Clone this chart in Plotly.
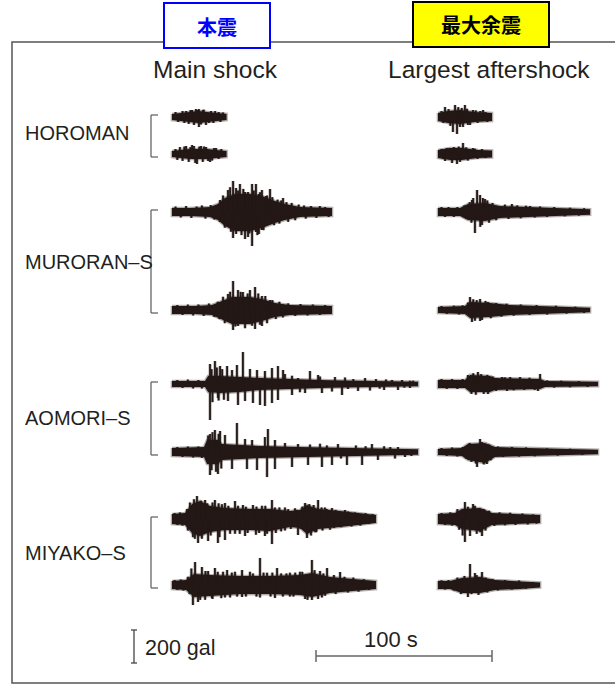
import plotly.graph_objects as go

# ---------------- chart data (time in s, acceleration in gal) ----------------
stations = ["HOROMAN", "MURORAN–S", "AOMORI–S", "MIYAKO–S"]
column_titles = ["Main shock", "Largest aftershock"]
column_tags = ["本震", "最大余震"]
scale_gal = 200
scale_sec = 100

# envelope knots: time (s), upper / lower envelope (gal)
# peaks: (time s, peak acceleration gal; negative = downward)

# HOROMAN, main shock
hor_m1_t = [0, 5, 10, 15, 20, 25, 31]
hor_m1_up = [18, 24, 30, 36, 30, 24, 18]
hor_m1_dn = [18, 24, 30, 36, 30, 24, 18]
hor_m1_pk = [(8.0, 36), (11.4, 42), (13.6, 48), (15.3, 48), (15.3, -60), (17.6, 42), (19.3, -48),
             (22.2, 36), (2, 30), (3.5, -30), (6, 36), (7, -36), (9.5, -42), (10.5, 42),
             (12.5, -48), (14.5, 42), (16.5, -45), (18, 45), (21, -36), (23.5, -36), (24.5, 36),
             (26.5, 30), (27.5, -30), (29, 28)]
hor_m2_t = [0, 5, 10, 15, 20, 25, 31]
hor_m2_up = [18, 24, 30, 30, 30, 24, 18]
hor_m2_dn = [18, 24, 30, 30, 30, 24, 18]
hor_m2_pk = [(4.5, 42), (8.0, 48), (11.4, 54), (14.2, -60), (16.5, 48), (19.3, 42), (21.6, -48),
             (23.9, 36), (2, 30), (3, -36), (6, -42), (7, 45), (9.5, -48), (10.5, 42), (12.5, 48),
             (13.2, -54), (15.5, 45), (17.5, -48), (18.2, 45), (20.5, -42), (22.8, -40), (25, 36),
             (26.5, -30), (28, 30)]

# HOROMAN, largest aftershock
hor_a1_t = [0, 5.7, 12.5, 21.0, 30.7]
hor_a1_up = [24, 36, 42, 30, 24]
hor_a1_dn = [24, 36, 42, 30, 24]
hor_a1_pk = [(4.0, 61), (9.7, 73), (15.3, 73), (19.9, 42), (25.6, 42), (8.5, -91), (10.8, -103),
             (14.2, -61), (18.2, -48), (2, 36), (3, -36), (6, 48), (7, -54), (11.5, 60),
             (12.5, -60), (13.5, 55), (16.5, 50), (17, -48), (21.5, 40), (22.5, -36), (24, 36),
             (27, 30), (28, -30)]
hor_a2_t = [0, 6.8, 13.6, 22.7, 30.7]
hor_a2_up = [24, 36, 36, 24, 21]
hor_a2_dn = [24, 36, 36, 24, 21]
hor_a2_pk = [(6.8, 36), (14.2, 67), (19.9, 36), (4.0, -42), (8.0, -55), (10.8, -61), (2, 30),
             (3, -30), (5, 36), (9, 42), (11.8, 45), (12.5, -48), (16, 40), (17, -40), (21, 32),
             (22.5, -30), (25, 30), (27, -24)]

# MURORAN-S, main shock
mur_m1_t = [0, 10.2, 21.6, 26.1, 30.1, 35.8, 44.3, 51.1, 58.5, 64.2, 72.7, 90.9]
mur_m1_up = [24, 24, 30, 48, 85, 109, 109, 97, 67, 48, 30, 24]
mur_m1_dn = [24, 24, 30, 48, 85, 115, 115, 97, 67, 48, 30, 24]
mur_m1_pk = [(27.3, 73), (31.8, 133), (34.7, 188), (36.4, 145), (38.6, 170), (41.5, 121),
             (43.2, 121), (45.5, 170), (47.7, 170), (49.4, 109), (51.1, 133), (53.4, 97),
             (55.7, 139), (63.1, 85), (27.3, -61), (34.7, -158), (36.4, -133), (38.6, -109),
             (41.5, -164), (43.2, -152), (45.5, -206), (47.7, -121), (49.4, -133), (51.1, -109),
             (53.4, -85), (55.7, -73), (63.1, -48), (2, 33), (5, -33), (8, 36), (11, -36),
             (14, 33), (17, 40), (19, -40), (22, 42), (24, -45), (29, 100), (30, -95), (33, 150),
             (33.5, -120), (37.5, 130), (39.5, -140), (40.5, 140), (42.5, 110), (44, -130),
             (46.5, 130), (48.5, -140), (50, 120), (52, -110), (54, 100), (57, 90), (58, -80),
             (60, 75), (61, -70), (62, 70), (65, 60), (66, -60), (68, 55), (70, -50), (72, 45),
             (75, 40), (76, -40), (79, 36), (82, -36), (84, 36), (87, 30), (89, -30)]
mur_m2_t = [0, 13.1, 22.7, 28.4, 34.1, 44.3, 51.1, 58.5, 67.0, 90.9]
mur_m2_up = [24, 24, 30, 55, 79, 79, 67, 42, 30, 24]
mur_m2_dn = [24, 24, 30, 55, 85, 85, 67, 42, 30, 24]
mur_m2_pk = [(31.8, 97), (34.7, 176), (37.5, 121), (40.3, 109), (44.3, 121), (47.2, 139),
             (51.1, 85), (55.7, 61), (31.8, -73), (34.7, -121), (37.5, -97), (40.3, -85),
             (44.3, -73), (47.2, -115), (51.1, -97), (55.7, -48), (3, 30), (6, -30), (9, 33),
             (12, -33), (15, 33), (18, -36), (21, 40), (24, -42), (26, 50), (27, -55), (29, 80),
             (30, -80), (33, 110), (36, -100), (39, 110), (41.5, -110), (43, 100), (45.5, -95),
             (49, 100), (50, -90), (53, 85), (54, -80), (57, 60), (59, -55), (61, 50), (63, -45),
             (66, 40), (70, -36), (73, 36), (77, -33), (80, 33), (84, -30), (87, 30)]

# MURORAN-S, largest aftershock
mur_a1_t = [0, 12.5, 17.0, 26.7, 35.2, 52.3, 69.3, 86.4]
mur_a1_up = [24, 24, 48, 55, 36, 30, 22, 16]
mur_a1_dn = [24, 24, 48, 55, 36, 30, 22, 16]
mur_a1_pk = [(19.3, 73), (22.2, 133), (23.9, 103), (26.7, 79), (42.0, 48), (52.3, 36),
             (21.0, -127), (25.0, -79), (2, 30), (4, -30), (6, 30), (9, -30), (11, 30), (15, 40),
             (16, -40), (18, 60), (19, -65), (20, 85), (24, -90), (25.5, 85), (28, 70), (29, -65),
             (31, 55), (33, -50), (38, 45), (40, -42), (45, 40), (47, -38), (50, 38), (55, -33),
             (58, 33), (62, -30), (66, 30), (72, -26), (75, 26), (80, -22), (83, 22)]
mur_a2_t = [0, 15.3, 18.2, 29.5, 40.9, 63.6, 86.4]
mur_a2_up = [18, 24, 48, 42, 30, 22, 14]
mur_a2_dn = [18, 24, 48, 42, 30, 22, 14]
mur_a2_pk = [(18.2, 79), (23.9, 67), (28.4, 48), (19.3, -73), (23.9, -67), (2, 24), (5, -24),
             (9, 26), (12, -27), (14, 28), (17, 45), (20, 65), (21, -65), (22, 60), (25, -60),
             (27, 55), (30, -50), (33, 42), (36, -40), (39, 38), (43, -34), (47, 33), (52, -30),
             (56, 30), (62, -27), (67, 26), (73, -22), (78, 20), (83, -18)]

# AOMORI-S, main shock
aom_m1_t = [0, 18.8, 20.5, 27.3, 38.6, 50.0, 67.0, 89.8, 112.5, 139.8]
aom_m1_up = [18, 18, 48, 48, 42, 36, 30, 22, 16, 13]
aom_m1_dn = [18, 18, 48, 55, 48, 36, 30, 22, 16, 13]
aom_m1_pk = [(21.6, 121), (24.4, 139), (27.3, 109), (31.3, 109), (34.1, 85), (36.9, 115),
             (40.3, 194), (44.3, 91), (48.3, 85), (52.8, 79), (56.8, 97), (60.2, 109), (63.1, 85),
             (64.2, 60), (68.2, 50), (71.6, 36), (78.4, 79), (83.0, 55), (84.1, 45), (92.6, 42),
             (98.3, 40), (109.7, 36), (115.9, 30), (121.6, 28), (130.7, 24), (135.2, 20),
             (21.6, -218), (26.1, -85), (31.8, -103), (37.5, -127), (41.5, -103), (46.0, -115),
             (50.0, -127), (52.8, -133), (56.8, -115), (60.2, -97), (68.2, -67), (72.7, -50),
             (75.6, -55), (85.2, -55), (90.9, -45), (96.6, -67), (105.7, -42), (112.5, -40),
             (120.5, -36), (128.4, -36), (135.2, -24), (3, 24), (6, -24), (9, 27), (12, -27),
             (15, 24), (17, -27), (22.5, 90), (23, -110), (25.5, 100), (26.5, -100), (28.5, 90),
             (29.5, -95), (100, -30), (103, 30), (118, -28), (125, 25), (132, -22), (137, 20)]
aom_m2_t = [0, 18.2, 19.9, 26.1, 28.4, 50.0, 72.7, 101.1, 139.8]
aom_m2_up = [24, 30, 73, 73, 48, 36, 30, 24, 16]
aom_m2_dn = [24, 30, 73, 73, 48, 36, 30, 24, 16]
aom_m2_pk = [(21.6, 109), (24.4, 133), (27.3, 127), (30.1, 103), (36.9, 176), (41.5, 79),
             (45.5, 73), (52.8, 91), (54.5, 139), (58.5, 73), (64.2, 55), (71.6, 48), (78.4, 45),
             (84.1, 50), (94.3, 48), (104.5, 40), (113.6, 48), (120.5, 35), (128.4, 30),
             (21.6, -139), (26.1, -133), (34.1, -103), (42.6, -103), (48.3, -109), (54.0, -152),
             (58.5, -103), (68.2, -91), (77.3, -79), (85.2, -91), (90.9, -79), (99.4, -79),
             (108.0, -79), (117.0, -48), (126.7, -40), (132.4, -30), (3, 30), (6, -30), (9, 33),
             (12, -33), (15, 33), (17, -36), (20.5, 100), (22.5, -110), (23, 120), (25, -120),
             (26.5, 110), (28, -100), (88, 40), (96, -40), (110, 35), (124, 30), (136, -24)]

# AOMORI-S, largest aftershock
aom_a1_t = [0, 15.3, 18.2, 29.5, 32.4, 58.0, 60.8, 90.9]
aom_a1_up = [24, 24, 55, 48, 36, 30, 18, 14]
aom_a1_dn = [24, 24, 48, 48, 36, 30, 18, 14]
aom_a1_pk = [(22.7, 73), (36.4, 42), (46.6, 42), (58.0, 61), (28.4, -61), (39.2, -42),
             (56.8, -42), (2, 30), (5, -30), (8, 30), (11, -30), (14, 30), (17, 55), (19, -60),
             (20, 65), (21.5, -65), (24.5, 60), (26, -60), (28, 55), (31, 45), (33, -42), (38, 40),
             (41, 42), (43, -38), (49, -36), (52, 38), (55, -36), (62, 22), (66, -22), (70, 20),
             (75, -20), (80, 18), (85, -18)]
aom_a2_t = [0, 13.6, 17.0, 26.7, 32.4, 58.0, 90.9]
aom_a2_up = [18, 24, 48, 55, 30, 24, 14]
aom_a2_dn = [18, 24, 48, 67, 30, 24, 14]
aom_a2_pk = [(21.0, 48), (23.9, 79), (22.2, -91), (27.8, -73), (2, 24), (5, -24), (8, 27),
             (11, -27), (14, 30), (16, -40), (18, 55), (19, -60), (21.5, -70), (25, 60),
             (26, -75), (29, 45), (30, -50), (34, 33), (37, -30), (42, 30), (46, -28), (50, 28),
             (55, -26), (62, 22), (68, -22), (75, 20), (82, -18)]

# MIYAKO-S, main shock
miy_m1_t = [0, 7.4, 11.4, 15.9, 21.6, 30.1, 44.3, 55.7, 67.0, 72.7, 76.7, 83.0, 95.5, 106.8, 115.9]
miy_m1_up = [30, 36, 91, 109, 79, 67, 61, 61, 48, 55, 85, 61, 48, 36, 24]
miy_m1_dn = [30, 36, 85, 103, 79, 67, 67, 73, 48, 55, 91, 61, 48, 36, 24]
miy_m1_pk = [(10.2, 100), (14.2, 139), (18.8, 115), (24.4, 115), (28.4, 90), (30.1, 97),
             (35.8, 109), (40.3, 85), (46.0, 85), (51.1, 80), (56.8, 115), (64.2, 70), (69.9, 65),
             (75.6, 97), (83.0, 115), (86.9, 70), (90.9, 67), (98.3, 55), (11.9, -110),
             (14.8, -145), (20.5, -133), (26.1, -145), (30.1, -127), (35.8, -90), (41.5, -103),
             (47.7, -95), (52.8, -103), (56.8, -152), (64.2, -70), (71.6, -97), (76.7, -115),
             (81.3, -80), (89.8, -65), (1.5, 36), (3, -36), (4.5, 40), (6, -40), (8.5, 60),
             (9, -70), (12.5, 120), (13, -120), (16.5, 110), (17, -120), (20, 95), (22, -100),
             (23, 100), (26.5, 95), (27, -110), (32, 80), (33, -90), (37.5, 80), (38.5, -90),
             (42, 75), (43, -85), (48, 75), (49.5, -85), (53, 80), (54, -90), (58.5, 70),
             (59, -85), (61, 70), (62, -75), (66, 60), (67.5, -60), (71, 55), (73, -60), (74, 75),
             (78, 90), (79, -100), (80.5, 85), (82, -80), (85, 70), (85.5, -70), (88, 60),
             (92, -55), (93, 55), (96, -50), (100, 45), (102, -45), (104, 40), (107, -40),
             (110, 35), (112, -30), (114, 30)]
miy_m2_t = [0, 8.0, 12.5, 21.6, 38.6, 55.7, 72.7, 79.5, 89.8, 104.0, 115.9]
miy_m2_up = [24, 30, 67, 61, 55, 55, 61, 73, 48, 36, 24]
miy_m2_dn = [24, 30, 73, 67, 55, 55, 61, 73, 48, 36, 24]
miy_m2_pk = [(13.1, 139), (17.0, 109), (20.5, 85), (24.4, 103), (31.3, 91), (35.8, 80),
             (39.8, 91), (44.3, 80), (50.0, 164), (54.0, 75), (59.7, 103), (67.0, 75), (72.7, 80),
             (79.5, 152), (84.1, 85), (88.1, 103), (95.5, 79), (11.9, -121), (14.8, -103),
             (18.8, -90), (22.7, -79), (30.1, -75), (39.8, -73), (50.0, -75), (58.5, -79),
             (67.0, -70), (75.6, -85), (79.5, -91), (85.2, -75), (1.5, 30), (3, -30), (5, 33),
             (6.5, -33), (9, 50), (10, -55), (11, 100), (16, -90), (19, 85), (23, -85), (26, 80),
             (28, -80), (29, 80), (33, -75), (34, 75), (37, -70), (42, -70), (46, 70), (48, -70),
             (52, 75), (56, -70), (57, 75), (62, 70), (63, -70), (65, 70), (69, -70), (70, 75),
             (74, 80), (77, -90), (81, 90), (83, -85), (86, 70), (87, -65), (92, 60), (93, -55),
             (98, 50), (100, -45), (103, 45), (106, -40), (109, 35), (112, -30)]

# MIYAKO-S, largest aftershock
miy_a1_t = [0, 9.7, 13.6, 23.9, 30.7, 46.6, 58.0]
miy_a1_up = [30, 36, 61, 67, 36, 30, 24]
miy_a1_dn = [30, 36, 61, 73, 36, 30, 24]
miy_a1_pk = [(15.3, 103), (19.9, 91), (23.9, 61), (15.3, -139), (18.2, -103), (25.0, -103),
             (2, 36), (4, -36), (7, 40), (8, -40), (11, 60), (12, -65), (14, -100), (17, 75),
             (21, 80), (22, -90), (24, -80), (26, 60), (27, -70), (29, 50), (32, -42), (35, 40),
             (38, -38), (41, 38), (44, -36), (48, 33), (51, -33), (54, 28), (56, -28)]
miy_a2_t = [0, 6.8, 13.6, 23.9, 32.4, 46.6, 58.0]
miy_a2_up = [24, 24, 42, 48, 30, 24, 15]
miy_a2_dn = [24, 24, 48, 48, 30, 24, 15]
miy_a2_pk = [(18.2, 127), (21.0, 73), (25.0, 79), (17.0, -73), (2, 28), (4, -28), (6, 30),
             (9, -33), (11, 45), (13, -55), (15, 55), (19, -55), (22, 60), (23, -60), (27, 45),
             (28, -45), (31, 36), (34, -33), (38, 30), (42, -28), (46, 28), (50, -22), (54, 18)]

# ---------------- layout (pixel geometry of the page) ----------------
W, H = 615, 685
PX_PER_S = 1.76
PX_PER_GAL = 33 / 200
col_start_px = [172, 438]
baseline_px = [[117, 154], [212, 310], [384, 452], [519, 585]]
label_y_px = [133, 262, 418, 553]
INK = "#231815"
INK_SOFT = "rgba(35,24,21,0.35)"
TXT = "#231f20"
FONT = "Liberation Sans, Arial, sans-serif"

traces_by_station = [
    [[(hor_m1_t, hor_m1_up, hor_m1_dn, hor_m1_pk), (hor_m2_t, hor_m2_up, hor_m2_dn, hor_m2_pk)],
     [(hor_a1_t, hor_a1_up, hor_a1_dn, hor_a1_pk), (hor_a2_t, hor_a2_up, hor_a2_dn, hor_a2_pk)]],
    [[(mur_m1_t, mur_m1_up, mur_m1_dn, mur_m1_pk), (mur_m2_t, mur_m2_up, mur_m2_dn, mur_m2_pk)],
     [(mur_a1_t, mur_a1_up, mur_a1_dn, mur_a1_pk), (mur_a2_t, mur_a2_up, mur_a2_dn, mur_a2_pk)]],
    [[(aom_m1_t, aom_m1_up, aom_m1_dn, aom_m1_pk), (aom_m2_t, aom_m2_up, aom_m2_dn, aom_m2_pk)],
     [(aom_a1_t, aom_a1_up, aom_a1_dn, aom_a1_pk), (aom_a2_t, aom_a2_up, aom_a2_dn, aom_a2_pk)]],
    [[(miy_m1_t, miy_m1_up, miy_m1_dn, miy_m1_pk), (miy_m2_t, miy_m2_up, miy_m2_dn, miy_m2_pk)],
     [(miy_a1_t, miy_a1_up, miy_a1_dn, miy_a1_pk), (miy_a2_t, miy_a2_up, miy_a2_dn, miy_a2_pk)]],
]


def sx(px):  # pixel x -> time axis (s)
    return px / PX_PER_S


def sy(py):  # pixel y -> amplitude axis (gal)
    return -py / PX_PER_GAL


fig = go.Figure()

for si, cols in enumerate(traces_by_station):
    for ci, pair in enumerate(cols):
        x0 = sx(col_start_px[ci])
        for k, (t, up, dn, pk) in enumerate(pair):
            b = sy(baseline_px[si][k])
            xs = [x0 + v for v in t] + [x0 + v for v in reversed(t)]
            ys = [b + v for v in up] + [b - v for v in reversed(dn)]
            px_, py_ = [], []
            for tt, aa in pk:
                px_ += [x0 + tt, x0 + tt, None]
                py_ += [b, b + aa, None]
            # soft halo (blurred print look)
            fig.add_trace(go.Scatter(x=px_, y=py_, mode="lines",
                                     line=dict(color=INK_SOFT, width=3.2),
                                     hoverinfo="skip", showlegend=False))
            fig.add_trace(go.Scatter(x=xs + [xs[0]], y=ys + [ys[0]], mode="lines",
                                     fill="toself", fillcolor=INK,
                                     line=dict(color=INK_SOFT, width=2.6),
                                     hoverinfo="skip", showlegend=False))
            fig.add_trace(go.Scatter(x=px_, y=py_, mode="lines",
                                     line=dict(color=INK, width=1.8),
                                     hoverinfo="skip", showlegend=False))

# 200 gal scale bar
gx = sx(134)
gb = sy(663)
cap = 3 / PX_PER_S
fig.add_trace(go.Scatter(
    x=[gx, gx, None, gx - cap, gx + cap, None, gx - cap, gx + cap],
    y=[gb, gb + scale_gal, None, gb, gb, None, gb + scale_gal, gb + scale_gal],
    mode="lines", line=dict(color="#444", width=1.3), hoverinfo="skip", showlegend=False))

# 100 s scale bar
tx0 = sx(316)
ty = sy(656)
tick = 6 / PX_PER_GAL
fig.add_trace(go.Scatter(
    x=[tx0, tx0 + scale_sec, None, tx0, tx0, None, tx0 + scale_sec, tx0 + scale_sec],
    y=[ty, ty, None, ty - tick, ty + tick, None, ty - tick, ty + tick],
    mode="lines", line=dict(color="#666", width=1.5), hoverinfo="skip", showlegend=False))


def P(px, py):
    return px / W, 1 - py / H


shapes = []
fx0, fy0 = P(12, 683)
fx1, fy1 = P(640, 42)
shapes.append(dict(type="rect", xref="paper", yref="paper", x0=fx0, y0=fy0, x1=fx1, y1=fy1,
                   line=dict(color="#555", width=1.5), fillcolor="rgba(0,0,0,0)"))
bx0, by0 = P(164, 48)
bx1, by1 = P(270, 3)
shapes.append(dict(type="rect", xref="paper", yref="paper", x0=bx0, y0=by0, x1=bx1, y1=by1,
                   line=dict(color="#0000ff", width=2), fillcolor="white"))
bx0, by0 = P(413, 47)
bx1, by1 = P(549, 2)
shapes.append(dict(type="rect", xref="paper", yref="paper", x0=bx0, y0=by0, x1=bx1, y1=by1,
                   line=dict(color="#000000", width=2), fillcolor="#ffff00"))
for (top, bot) in baseline_px:
    xa, ya = P(151, top - 2)
    xb, yb = P(151, bot + 3)
    xc, _ = P(158, 0)
    for (p0, p1) in [((xa, ya), (xa, yb)), ((xa, ya), (xc, ya)), ((xa, yb), (xc, yb))]:
        shapes.append(dict(type="line", xref="paper", yref="paper",
                           x0=p0[0], y0=p0[1], x1=p1[0], y1=p1[1],
                           line=dict(color="#666", width=1.3)))

ann = []


def add_text(text, px, py, size, color=TXT, family=FONT, xanchor="center"):
    x, y = P(px, py)
    ann.append(dict(text=text, x=x, y=y, xref="paper", yref="paper", showarrow=False,
                    xanchor=xanchor, yanchor="middle",
                    font=dict(size=size, color=color, family=family)))


add_text("<b>" + column_tags[0] + "</b>", 217, 26, 20, color="#0000ff",
         family="Noto Sans CJK JP")
add_text("<b>" + column_tags[1] + "</b>", 481, 25, 20, color="#000000",
         family="Noto Sans CJK JP")
add_text(column_titles[0], 215, 70, 24.5)
add_text(column_titles[1], 489, 70, 24.5)
for name, ly in zip(stations, label_y_px):
    add_text(name, 23, ly, 20, xanchor="left")
add_text(f"{scale_gal} gal", 143, 648, 21.5, xanchor="left")
add_text(f"{scale_sec} s", 391, 639, 22)

fig.update_layout(
    width=W, height=H, margin=dict(l=0, r=0, t=0, b=0),
    paper_bgcolor="white", plot_bgcolor="white",
    xaxis=dict(range=[0, W / PX_PER_S], visible=False, fixedrange=True),
    yaxis=dict(range=[-H / PX_PER_GAL, 0], visible=False, fixedrange=True),
    shapes=shapes, annotations=ann, showlegend=False,
)
fig.write_html("out.html", config={"displayModeBar": False},
               post_script="document.body.style.margin='0';document.body.style.overflow='hidden';")
